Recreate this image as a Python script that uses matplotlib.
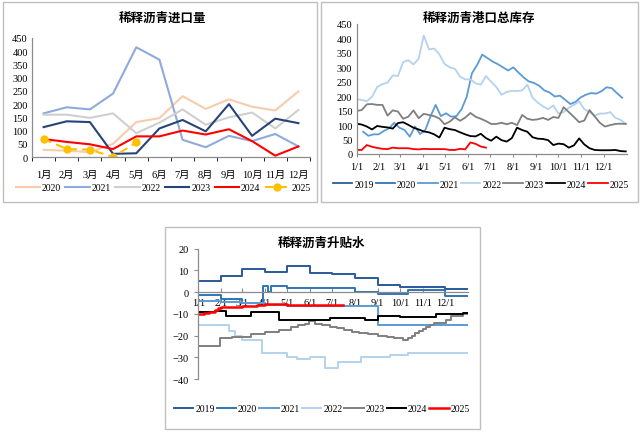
import matplotlib
matplotlib.use("Agg")
import matplotlib.pyplot as plt
from matplotlib.patches import Rectangle

plt.rcParams["font.family"] = ["Liberation Serif", "Noto Sans CJK SC"]

CJK = ["Noto Sans CJK SC", "DejaVu Sans"]
MIXED = ["Liberation Serif", "Noto Sans CJK SC"]
AXIS_GRAY = "#8C8C8C"

# ── Panel 1: import volume by month ─────────────────────────────────────────
months = ["1月", "2月", "3月", "4月", "5月", "6月", "7月", "8月", "9月", "10月", "11月", "12月"]
imp_2020 = [27, 24, 18, 50, 132, 147, 230, 182, 218, 190, 176, 248]
imp_2021 = [165, 188, 180, 240, 415, 368, 65, 37, 80, 60, 87, 40]
imp_2022 = [160, 160, 148, 165, 90, 130, 180, 122, 150, 168, 108, 178]
imp_2023 = [113, 135, 132, 12, 14, 108, 140, 97, 200, 80, 145, 128]
imp_2024 = [68, 57, 48, 30, 78, 78, 100, 85, 105, 60, 5, 40]
imp_2025 = [68, 30, 28, 0, 55]

# ── Panel 2: port inventory, weekly (day of year = start + 7*i) ─────────────
inv_2021_start = 9
inv_2021 = [77, 63, 68, 68, 80, 89, 108, 91, 83, 60, 95, 69, 83, 130, 170, 131, 141,
            129, 131, 155, 198, 279, 308, 344, 332, 320, 311, 300, 289, 300, 282, 265,
            251, 246, 236, 220, 213, 199, 202, 188, 173, 180, 196, 205, 211, 209, 217,
            231, 228, 211, 195]
inv_2022_start = 0
inv_2022 = [190, 187, 183, 198, 232, 242, 247, 272, 270, 318, 325, 310, 330, 410, 362,
            365, 345, 312, 300, 295, 268, 258, 258, 245, 240, 270, 250, 232, 205, 215,
            218, 218, 220, 240, 195, 178, 165, 155, 168, 140, 145, 160, 170, 182, 155,
            145, 133, 140, 140, 145, 125, 118, 105]
inv_2023_start = 0
inv_2023 = [149, 152, 172, 173, 170, 170, 133, 151, 147, 122, 129, 151, 124, 139, 135,
            131, 123, 103, 112, 127, 115, 126, 142, 129, 122, 114, 104, 104, 108, 103,
            108, 100, 135, 122, 118, 120, 125, 118, 128, 125, 162, 145, 128, 110, 116,
            152, 130, 108, 95, 100, 104, 105, 104]
inv_2024_start = 0
inv_2024 = [105, 102, 95, 85, 97, 94, 92, 88, 107, 110, 101, 91, 85, 78, 75, 68, 57, 91,
            86, 83, 75, 68, 62, 61, 70, 55, 46, 60, 48, 43, 55, 91, 83, 77, 58, 53, 52,
            48, 31, 36, 34, 22, 30, 54, 33, 20, 14, 13, 13, 13, 14, 10, 9]
inv_2025_start = 0
inv_2025 = [14, 14, 31, 25, 21, 18, 17, 22, 20, 20, 20, 17, 16, 18, 17, 17, 17, 17, 14,
            14, 18, 16, 40, 35, 26, 22]

month_days = [0, 31, 59, 90, 120, 151, 181, 212, 243, 273, 304, 334]
month_labels = ["1/1", "2/1", "3/1", "4/1", "5/1", "6/1", "7/1", "8/1", "9/1", "10/1", "11/1", "12/1"]

# ── Panel 3: premium/discount, step changes (day of year, value) ────────────
sp_2019_days = [0, 31, 59, 90, 120, 151, 181, 212, 243, 273, 334, 365]
sp_2019 = [5, 7.5, 10.5, 9.5, 12, 9, 8.5, 6.5, 3.5, 2.5, 1.5, 1.5]
sp_2020_days = [0, 31, 59, 87, 95, 99, 120, 212, 243, 284, 334, 365]
sp_2020 = [-1.5, -3, -5, 3, 0, 3, 2, 0, -0.8, 0.8, -2, -2]
sp_2021_days = [0, 31, 59, 90, 120, 243, 365]
sp_2021 = [-4, -4.5, -5, -6, -6.5, -15, -15]
sp_2022_days = [0, 41, 50, 59, 86, 120, 134, 151, 171, 189, 221, 260, 284, 365]
sp_2022 = [-15, -18, -20, -22, -28, -30, -31, -30, -35, -32, -30, -29, -28, -28]
sp_2023_days = [0, 29, 45, 72, 90, 110, 126, 135, 144, 150, 158, 168, 178, 188, 198,
                208, 218, 230, 243, 255, 265, 277, 284, 289, 294, 299, 304, 309, 314,
                320, 336, 343, 358, 365]
sp_2023 = [-25, -21, -20.5, -19.5, -18.5, -17.5, -16, -15, -14.5, -13.5, -14.5, -15,
           -16, -16.5, -17.5, -18.5, -19, -19.5, -20, -20.5, -21, -22, -21, -20, -19,
           -18, -17, -16, -15, -14, -13, -11, -10, -10]
sp_2024_days = [0, 22, 37, 71, 110, 178, 226, 244, 273, 322, 358, 365]
sp_2024 = [-9, -8.5, -11, -9, -13, -12, -13, -11, -11.5, -10, -9.5, -9.5]
sp_2025_days = [0, 8, 15, 22, 27, 31, 59, 80, 90, 120, 196]
sp_2025 = [-10, -9.5, -9, -8, -7.5, -7, -6.5, -6, -5.5, -5.7, -5.7]

COLORS = {
    "2019": "#2B5A9B",
    "2020": "#2E75B6",
    "2021": "#5B9BD5",
    "2022": "#B4D2EE",
    "2023": "#7F7F7F",
    "2024": "#000000",
    "2025": "#FF0000",
}

W, H = 642, 435


def fig_box(fig, x0, y0, x1, y1):
    """Grey frame around a panel, given in pixel coords from top-left."""
    fig.patches.append(Rectangle((x0 / W, 1 - y1 / H), (x1 - x0) / W, (y1 - y0) / H,
                                 transform=fig.transFigure, fill=False,
                                 edgecolor="#BFBFBF", linewidth=1.0))


def add_axes_px(fig, left, top, right, bottom):
    return fig.add_axes([left / W, 1 - bottom / H, (right - left) / W, (bottom - top) / H])


def style_axes(ax):
    for side in ("top", "right"):
        ax.spines[side].set_visible(False)
    for side in ("left", "bottom"):
        ax.spines[side].set_color(AXIS_GRAY)
        ax.spines[side].set_linewidth(0.9)
    ax.tick_params(labelsize=7.5, colors="black")
    ax.tick_params(axis="both", color=AXIS_GRAY)


def panel_title(fig, x, y, text):
    fig.text(x / W, 1 - y / H, text, ha="center", va="center", fontsize=9,
             fontweight="bold", family=CJK)


def panel_legend(ax, x, y, spacing=0.2, handlelen=2.0):
    ax.legend(loc="center", bbox_to_anchor=(x / W, 1 - y / H), bbox_transform=ax.figure.transFigure,
              ncol=7, frameon=False, fontsize=7, handlelength=handlelen,
              handletextpad=0.2, columnspacing=spacing, borderaxespad=0, borderpad=0)


fig = plt.figure(figsize=(W / 100, H / 100), dpi=100)

fig_box(fig, 3, 3, 317, 203)
fig_box(fig, 321, 3, 638, 203)
fig_box(fig, 165, 228, 480, 430)

# ---- panel 1 ----
ax1 = add_axes_px(fig, 32, 39, 310, 158)
x = list(range(len(months)))
ax1.plot(x, imp_2020, color="#F8CBAD", lw=1.5, label="2020")
ax1.plot(x, imp_2021, color="#8FAADC", lw=1.5, label="2021")
ax1.plot(x, imp_2022, color="#CFCFCF", lw=1.5, label="2022")
ax1.plot(x, imp_2023, color="#264478", lw=1.5, label="2023")
ax1.plot(x, imp_2024, color="#FF0000", lw=1.5, label="2024")
ax1.plot(x[:len(imp_2025)], imp_2025, color="#FFC000", lw=1.5, ls=(0, (4, 2.5)),
         marker="o", markersize=5, label="2025")
ax1.set_xlim(-0.5, 11.5)
ax1.set_ylim(0, 450)
ax1.set_yticks(range(0, 451, 50))
ax1.set_xticks(x)
ax1.set_xticklabels(months, family=MIXED)
ax1.set_xticks([i - 0.5 for i in range(13)], minor=True)
style_axes(ax1)
ax1.tick_params(axis="x", which="major", length=0, pad=9)
ax1.tick_params(axis="x", which="minor", length=3, direction="out")
ax1.tick_params(axis="y", length=0, pad=3)
panel_title(fig, 163, 18, "稀释沥青进口量")
panel_legend(ax1, 163, 189, spacing=0.45, handlelen=2.5)

# ---- panel 2 ----
ax2 = add_axes_px(fig, 356.5, 25, 626.5, 155)
ax2.plot([], [], color=COLORS["2019"], lw=1.3, label="2019")
ax2.plot([], [], color=COLORS["2020"], lw=1.3, label="2020")
for year, start, vals in (("2021", inv_2021_start, inv_2021),
                          ("2022", inv_2022_start, inv_2022),
                          ("2023", inv_2023_start, inv_2023),
                          ("2024", inv_2024_start, inv_2024),
                          ("2025", inv_2025_start, inv_2025)):
    days = [start + 7 * i for i in range(len(vals))]
    ax2.plot(days, vals, color=COLORS[year], lw=1.3, label=year)
ax2.set_xlim(0, 365)
ax2.set_ylim(0, 450)
ax2.set_yticks(range(0, 451, 50))
ax2.set_xticks(month_days)
ax2.set_xticklabels(month_labels)
style_axes(ax2)
ax2.tick_params(axis="x", length=2, pad=4)
ax2.tick_params(axis="y", length=0, pad=3)
panel_title(fig, 479, 18, "稀释沥青港口总库存")
panel_legend(ax2, 481, 185)

# ---- panel 3 ----
ax3 = add_axes_px(fig, 198.3, 249.7, 467.7, 380)
for year, days, vals in (("2019", sp_2019_days, sp_2019),
                         ("2020", sp_2020_days, sp_2020),
                         ("2021", sp_2021_days, sp_2021),
                         ("2022", sp_2022_days, sp_2022),
                         ("2023", sp_2023_days, sp_2023),
                         ("2024", sp_2024_days, sp_2024),
                         ("2025", sp_2025_days, sp_2025)):
    lw = 1.8 if year == "2025" else 1.4
    ax3.step(days, vals, where="post", color=COLORS[year], lw=lw, label=year)
ax3.set_xlim(0, 365)
ax3.set_ylim(-40, 20)
ax3.set_yticks(range(-40, 21, 10))
ax3.set_xticks(month_days)
ax3.set_xticklabels(month_labels)
style_axes(ax3)
ax3.spines["bottom"].set_position(("data", 0))
ax3.tick_params(axis="x", length=3, direction="in", pad=4)
ax3.tick_params(axis="y", length=3, direction="out", pad=4)
panel_title(fig, 322, 243, "稀释沥青升贴水")
panel_legend(ax3, 322, 410)

fig.savefig("out.png", dpi=100)
plt.close(fig)
